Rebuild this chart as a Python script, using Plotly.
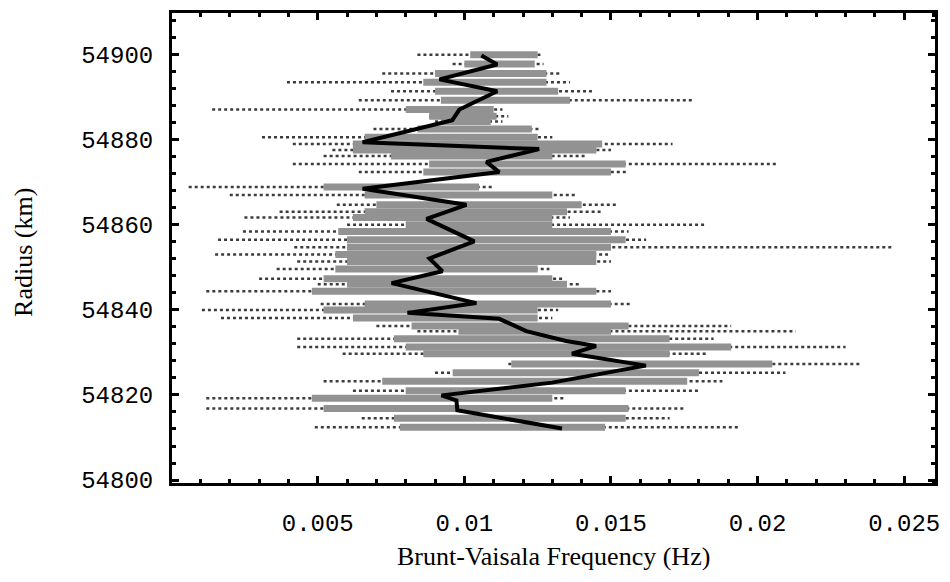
import plotly.graph_objects as go

# ---- data (frequency in Hz, radius in km) ----
# mean profile (black line)
mean_radius = [54899.8, 54897.7, 54894.2, 54891.4, 54887.1, 54884.6, 54879.4, 54877.8,
               54874.8, 54872.4, 54868.5, 54864.7, 54861.4, 54856.1, 54852.1, 54849.1,
               54846.3, 54841.6, 54839.3, 54837.9, 54835.0, 54832.7, 54831.5, 54829.7,
               54826.9, 54822.9, 54819.9, 54818.7, 54816.4, 54812.1]
mean_freq = [0.01058, 0.01112, 0.00915, 0.01112, 0.00983, 0.00959, 0.00653, 0.01255,
             0.01075, 0.01119, 0.00653, 0.01007, 0.00871, 0.01034, 0.00881, 0.00925,
             0.00752, 0.01041, 0.00806, 0.01119, 0.01211, 0.01347, 0.01449, 0.01367,
             0.01619, 0.01299, 0.00922, 0.00973, 0.00976, 0.01333]

# spread of individual profiles at each radius level
row_radius = [54900.0, 54897.8, 54895.6, 54893.5, 54891.4, 54889.3, 54887.1, 54885.5,
              54884.3, 54882.5, 54880.6, 54879.0, 54877.6, 54876.2, 54874.3, 54872.4,
              54868.9, 54867.0, 54864.7, 54863.1, 54861.7, 54860.0, 54858.4, 54856.5,
              54854.7, 54853.0, 54851.4, 54849.6, 54847.3, 54846.0, 54844.4, 54841.4,
              54840.0, 54838.1, 54836.2, 54835.0, 54833.2, 54831.3, 54829.7, 54827.3,
              54825.2, 54823.2, 54821.0, 54819.2, 54816.8, 54814.5, 54812.4]
row_min = [0.0084, 0.0096, 0.0072, 0.00395, 0.0075, 0.0064, 0.0014, 0.0088,
           0.0090, 0.0069, 0.0031, 0.00415, 0.0055, 0.0052, 0.00415, 0.0064,
           0.0006, 0.0020, 0.00565, 0.0037, 0.0025, 0.0060, 0.00245, 0.0016,
           0.0042, 0.0015, 0.0043, 0.0036, 0.0030, 0.0050, 0.0012, 0.0051,
           0.00105, 0.0017, 0.0070, 0.0084, 0.0043, 0.0043, 0.00585, 0.0115,
           0.0090, 0.0052, 0.0062, 0.0012, 0.0012, 0.0065, 0.0049]
row_low = [0.0102, 0.0100, 0.0090, 0.0086, 0.0090, 0.0092, 0.0080, 0.0088,
           0.0092, 0.0084, 0.0066, 0.0062, 0.0062, 0.0075, 0.0088, 0.0086,
           0.0052, 0.0066, 0.0070, 0.0066, 0.0062, 0.0080, 0.0057, 0.0060,
           0.0060, 0.0056, 0.0060, 0.0056, 0.0052, 0.0060, 0.0048, 0.0066,
           0.0052, 0.0062, 0.0082, 0.0098, 0.0076, 0.0080, 0.0086, 0.0116,
           0.0096, 0.0072, 0.0080, 0.0048, 0.0052, 0.0076, 0.0078]
row_high = [0.0125, 0.0124, 0.0128, 0.0128, 0.0132, 0.0136, 0.0110, 0.0111,
            0.0109, 0.0123, 0.0125, 0.0147, 0.0145, 0.0130, 0.0155, 0.0150,
            0.0105, 0.0130, 0.0140, 0.0135, 0.0130, 0.0130, 0.0150, 0.0155,
            0.0150, 0.0145, 0.0145, 0.0125, 0.0130, 0.0135, 0.0145, 0.0150,
            0.0125, 0.0125, 0.0156, 0.0150, 0.0170, 0.0191, 0.0170, 0.0205,
            0.0180, 0.0176, 0.0155, 0.0130, 0.0156, 0.0155, 0.0148]
row_max = [0.0126, 0.0127, 0.0133, 0.0136, 0.01435, 0.0178, 0.0113, 0.0115,
           0.0113, 0.01255, 0.0130, 0.0171, 0.0150, 0.0142, 0.0207, 0.0156,
           0.0110, 0.0138, 0.0152, 0.0147, 0.0136, 0.0182, 0.0156, 0.0162,
           0.0246, 0.0149, 0.0150, 0.0129, 0.0134, 0.0140, 0.0150, 0.0157,
           0.0132, 0.0130, 0.0191, 0.0213, 0.0185, 0.0230, 0.0183, 0.0235,
           0.02095, 0.0188, 0.0180, 0.0134, 0.0175, 0.0170, 0.01935]

x_ticks = [0.005, 0.01, 0.015, 0.02, 0.025]
x_ticktext = ["0.005", "0.01", "0.015", "0.02", "0.025"]
y_ticks = [54800, 54820, 54840, 54860, 54880, 54900]
y_ticktext = ["54800", "54820", "54840", "54860", "54880", "54900"]

# ---- build segments ----
full_x, full_y, core_x, core_y = [], [], [], []
for r, a, b, c, d in zip(row_radius, row_min, row_low, row_high, row_max):
    full_x += [a, d, None]
    full_y += [r, r, None]
    core_x += [b, c, None]
    core_y += [r, r, None]

fig = go.Figure()
fig.add_trace(go.Scatter(x=full_x, y=full_y, mode="lines",
                         line=dict(color="#3c3c3c", width=2.5, dash="dot"),
                         hoverinfo="skip", showlegend=False))
fig.add_trace(go.Scatter(x=core_x, y=core_y, mode="lines",
                         line=dict(color="#929292", width=7),
                         hoverinfo="skip", showlegend=False))
fig.add_trace(go.Scatter(x=mean_freq, y=mean_radius, mode="lines",
                         line=dict(color="black", width=4),
                         hoverinfo="skip", showlegend=False))

tick_font = dict(family="Liberation Mono, Courier New, monospace", size=24, color="black")
xtitle_font = dict(family="Liberation Serif, Times New Roman, serif", size=26, color="black")
ytitle_font = dict(family="Liberation Serif, Times New Roman, serif", size=26, color="black")

fig.update_layout(
    width=950, height=582,
    margin=dict(l=172, r=13, t=10, b=99),
    paper_bgcolor="white", plot_bgcolor="white",
    xaxis=dict(range=[0.00003, 0.02605], showgrid=False, zeroline=False,
               showline=True, linecolor="black", linewidth=3, mirror="ticks",
               ticks="inside", ticklen=7, tickwidth=2.5, tickcolor="black",
               tickvals=x_ticks, ticktext=x_ticktext, tickfont=tick_font,
               ticklabelstandoff=16,
               minor=dict(dtick=0.001, tick0=0, ticks="inside", ticklen=4,
                          tickwidth=2.5, tickcolor="black", showgrid=False)),
    yaxis=dict(range=[54799.3, 54909.8], showgrid=False, zeroline=False,
               showline=True, linecolor="black", linewidth=3, mirror="ticks",
               ticks="inside", ticklen=7, tickwidth=2.5, tickcolor="black",
               tickvals=y_ticks, ticktext=y_ticktext, tickfont=tick_font,
               ticklabelstandoff=11,
               minor=dict(dtick=4, tick0=54800, ticks="inside", ticklen=4,
                          tickwidth=2.5, tickcolor="black", showgrid=False)),
    annotations=[
        dict(text="Brunt-Vaisala Frequency (Hz)", xref="paper", yref="paper",
             x=0.5, y=-0.157, xanchor="center", yanchor="middle",
             showarrow=False, font=xtitle_font),
        dict(text="Radius (km)", xref="paper", yref="paper",
             x=-0.195, y=0.49, xanchor="center", yanchor="middle",
             textangle=-90, showarrow=False, font=ytitle_font),
    ],
)

fig.write_html("out.html")
